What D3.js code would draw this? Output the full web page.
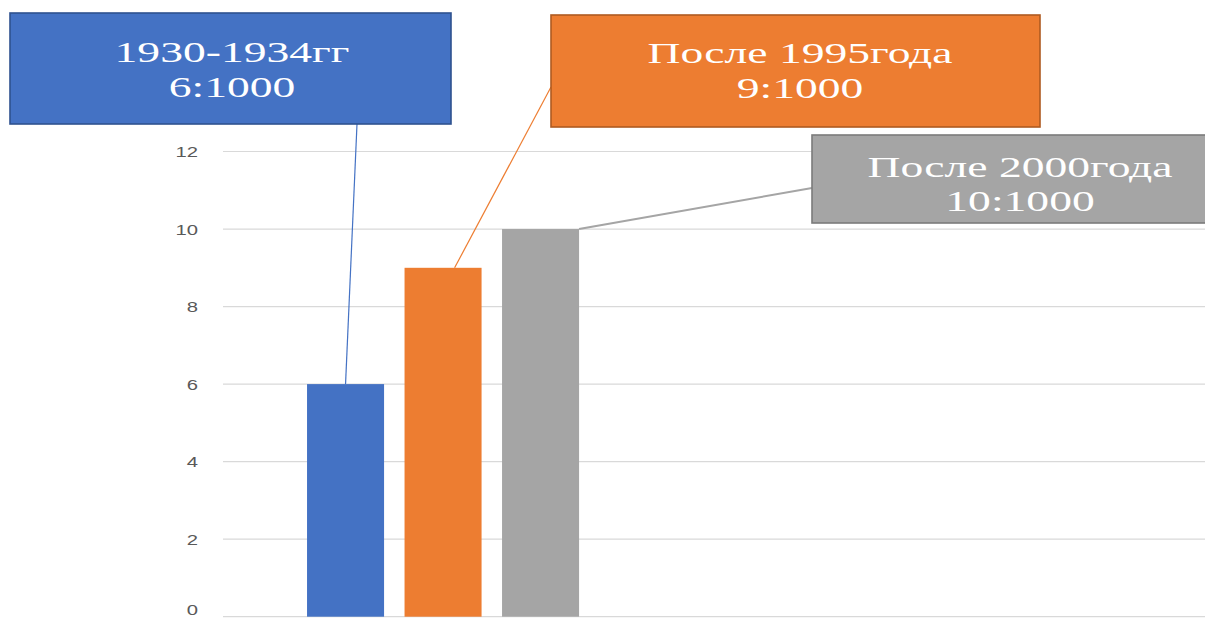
<!DOCTYPE html>
<html>
<head>
<meta charset="utf-8">
<script src="https://cdn.jsdelivr.net/npm/d3@7"></script>
<style>
  html, body { margin: 0; padding: 0; background: #ffffff; overflow: hidden; }
  svg { display: block; }
</style>
</head>
<body>
<svg id="chart" width="1205" height="619"></svg>
<script>
// Births ratio per 1000, three periods
const categories = ["1930-1934гг", "После 1995года", "После 2000года"];
const values = [6, 9, 10];
const calloutLines = [
  ["1930-1934гг", "6:1000"],
  ["После 1995года", "9:1000"],
  ["После 2000года", "10:1000"]
];
const yTicks = [0, 2, 4, 6, 8, 10, 12];

const colors = ["#4472C4", "#ED7D31", "#A5A5A5"];
const borders = ["#2F528F", "#AE5A21", "#7B7B7B"];

// Callout boxes (x, y, w, h) and leader-line end points on each box
const boxes = [
  { x: 10, y: 13, w: 441, h: 111, lx: 357, ly: 124 },
  { x: 551, y: 15, w: 489, h: 112, lx: 551, ly: 87 },
  { x: 812, y: 135, w: 420, h: 88, lx: 812, ly: 188 }
];
const textCenters = [232, 800, 1020];
const baselines = [[62, 97], [63, 98], [177, 211]];

const svg = d3.select("#chart");
const height = +svg.attr("height");

const y = d3.scaleLinear().domain([0, 12]).range([616.7, 151.5]);
const x = d3.scaleBand()
  .domain(categories)
  .range([296.8, 589.3])
  .paddingInner(0.21)
  .paddingOuter(0.105);

// Horizontal gridlines
svg.append("g")
  .selectAll("line")
  .data(yTicks)
  .join("line")
  .attr("x1", 223)
  .attr("x2", 1205)
  .attr("y1", d => y(d))
  .attr("y2", d => y(d))
  .attr("stroke", "#D9D9D9")
  .attr("stroke-width", 1.2);

// Y tick labels (kept inside the bottom edge)
svg.append("g")
  .selectAll("text")
  .data(yTicks)
  .join("text")
  .attr("transform", d => `translate(198,${Math.min(y(d) + 5.6, height - 4)}) scale(1.35,1)`)
  .attr("text-anchor", "end")
  .attr("font-family", "Liberation Sans, Arial, sans-serif")
  .attr("font-size", 15)
  .attr("fill", "#595959")
  .text(d => d);

// Bars
svg.append("g")
  .selectAll("rect")
  .data(values)
  .join("rect")
  .attr("x", (d, i) => x(categories[i]))
  .attr("y", d => y(d))
  .attr("width", x.bandwidth())
  .attr("height", d => y(0) - y(d))
  .attr("fill", (d, i) => colors[i]);

// Leader lines from bar tops to callouts
const leaderOffset = [0.5, 0.65, 1];
svg.append("g")
  .selectAll("line")
  .data(values)
  .join("line")
  .attr("x1", (d, i) => x(categories[i]) + x.bandwidth() * leaderOffset[i])
  .attr("y1", d => y(d))
  .attr("x2", (d, i) => boxes[i].lx)
  .attr("y2", (d, i) => boxes[i].ly)
  .attr("stroke", (d, i) => colors[i])
  .attr("stroke-width", (d, i) => i === 2 ? 2 : 1.2);

// Callout boxes
const callouts = svg.append("g")
  .selectAll("g")
  .data(calloutLines)
  .join("g");

callouts.append("rect")
  .attr("x", (d, i) => boxes[i].x)
  .attr("y", (d, i) => boxes[i].y)
  .attr("width", (d, i) => boxes[i].w)
  .attr("height", (d, i) => boxes[i].h)
  .attr("fill", (d, i) => colors[i])
  .attr("stroke", (d, i) => borders[i])
  .attr("stroke-width", 1.6);

callouts.each(function (lines, i) {
  d3.select(this)
    .selectAll("text")
    .data(lines)
    .join("text")
    .attr("transform", (t, j) => `translate(${textCenters[i]},${baselines[i][j]}) scale(1.52,1)`)
    .attr("text-anchor", "middle")
    .attr("font-family", "Liberation Serif, Times New Roman, serif")
    .attr("font-size", 30)
    .attr("fill", "#ffffff")
    .text(t => t);
});
</script>
</body>
</html>
